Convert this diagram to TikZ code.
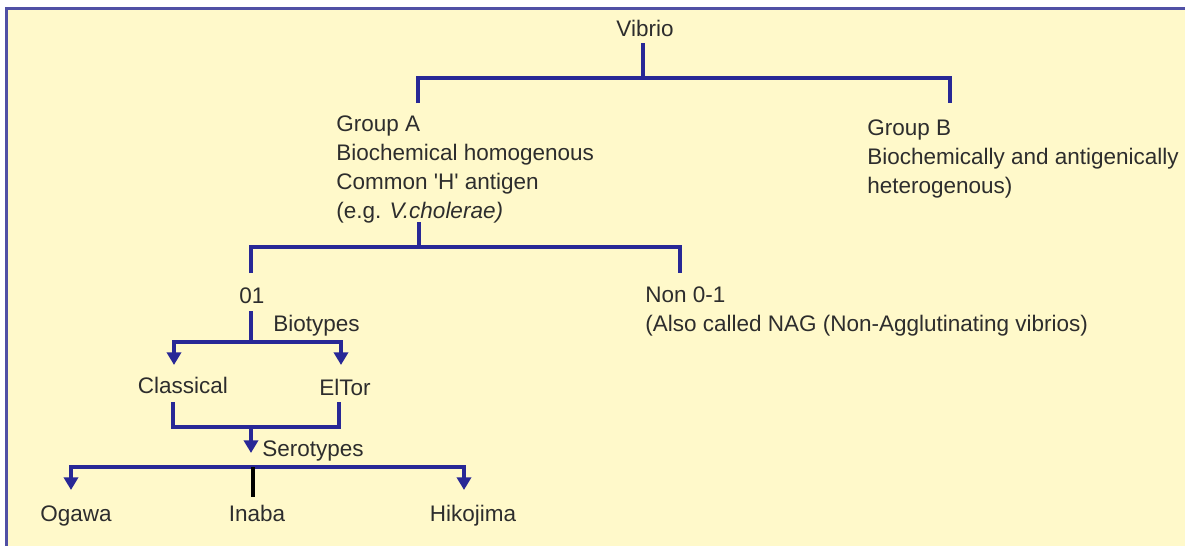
\documentclass[tikz,border=0pt]{standalone}
\usepackage{fontspec}
\setmainfont{Liberation Sans}[Ligatures=TeXOff]
\usetikzlibrary{arrows.meta, positioning}
\definecolor{treeblue}{RGB}{40,40,150}
\definecolor{framecol}{RGB}{80,80,165}
\definecolor{paper}{RGB}{255,249,202}
\definecolor{inkgray}{RGB}{45,45,45}

\begin{document}
\begin{tikzpicture}[x=0.025cm, y=-0.025cm,
  lbl/.style={font=\fontsize{16}{20.4}\selectfont, text=inkgray, inner sep=0pt},
  blk/.style={lbl, align=left, anchor=base west},
  tree/.style={treeblue, line width=2.8pt, line join=miter},
  tarrow/.style={tree, -{Triangle[width=10pt, length=9pt]}},
  tboth/.style={tree, {Triangle[width=10pt, length=9pt]}-{Triangle[width=10pt, length=9pt]}}]

\useasboundingbox (0,0) rectangle (1185,546);

% -- Frame ------------------------------------------------------------------
\fill[paper] (6.5,8.5) rectangle (1190,550);
\draw[framecol, line width=2pt] (6.5,550) -- (6.5,8.5) -- (1190,8.5);

% -- Labels (multi-line blocks sit on their last line) ----------------------
\node[lbl, anchor=base] (vibrio) at (645,36) {Vibrio};
\node[blk] (grpA) at (336,218) {Group A\\Biochemical homogenous\\Common 'H' antigen\\(e.g. \textit{V.cholerae)}};
\node[blk] (grpB) at (867,193) {Group B\\Biochemically and antigenically\\heterogenous)};

\node[lbl, anchor=base] (o1) at (252,303) {01};
\node[lbl, anchor=base west] (non) at (645,302) {Non 0-1};
\node[lbl, anchor=base west] (nag) at (645,331) {(Also called NAG (Non-Agglutinating vibrios)};
\node[lbl, anchor=base west] (bio) at (273,331) {Biotypes};

\node[lbl, anchor=base] (classical) at (183,393) {Classical};
\node[lbl, anchor=base] (eltor) at (345,395) {ElTor};
\node[lbl, anchor=base west] (sero) at (262,456) {Serotypes};

\node[lbl, anchor=base] (ogawa) at (76,521) {Ogawa};
\node[lbl, anchor=base] (inaba) at (257,521) {Inaba};
\node[lbl, anchor=base] (hiko) at (473,521) {Hikojima};

% -- Joints and line ends ---------------------------------------------------
\coordinate (vibrioS) at (643,43);
\coordinate (vibrioJ) at (643,78);
\coordinate (grpAN) at (418,103);
\coordinate (grpBN) at (950,103);

\coordinate (grpAS) at (419,222);
\coordinate (grpAJ) at (419,247);
\coordinate (o1N) at (251,273);
\coordinate (nonN) at (680,273);

\coordinate (o1S) at (251,311);
\coordinate (o1J) at (251,342);
\coordinate (classicalN) at (174,365);
\coordinate (eltorN) at (341,365);

\coordinate (classicalS) at (173,402);
\coordinate (eltorS) at (339,402);
\coordinate (bioJ) at (251,427);
\coordinate (seroN) at (251,453);

\coordinate (seroJ) at (253,467);
\coordinate (ogawaN) at (71,490);
\coordinate (hikoN) at (464,490);
\coordinate (inabaN) at (253,497);

% -- Tree -------------------------------------------------------------------
\draw[tree] (vibrioS) -- (vibrioJ);
\draw[tree] (grpAN) |- (vibrioJ) -| (grpBN);

\draw[tree] (grpAS) -- (grpAJ);
\draw[tree] (o1N) |- (grpAJ) -| (nonN);

\draw[tree] (o1S) -- (o1J);
\draw[tboth] (classicalN) |- (o1J) -| (eltorN);

\draw[tree] (classicalS) |- (bioJ) -| (eltorS);
\draw[tarrow] (bioJ) -- (seroN);

\draw[tboth] (ogawaN) |- (seroJ) -| (hikoN);
\draw[black, line width=2.8pt] (seroJ) -- (inabaN);

\end{tikzpicture}
\end{document}
